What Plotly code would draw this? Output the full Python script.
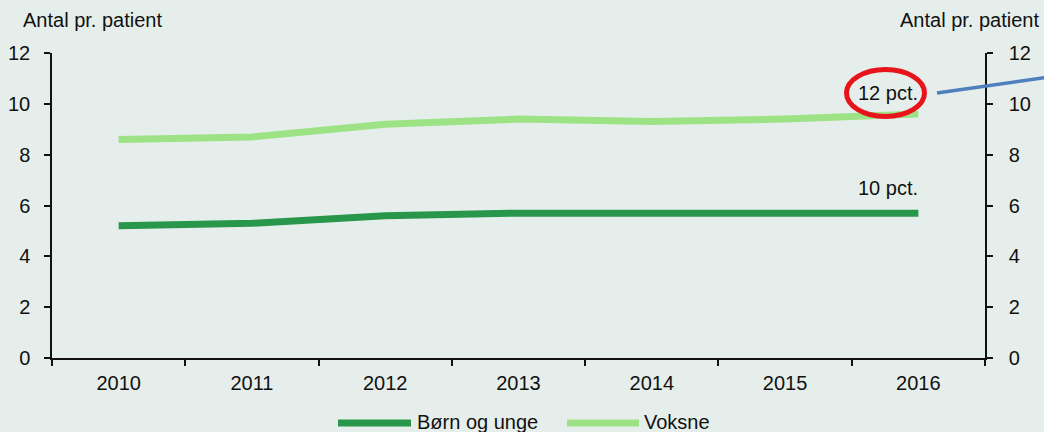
import plotly.graph_objects as go

# Data
years = ["2010", "2011", "2012", "2013", "2014", "2015", "2016"]
born_unge = [5.2, 5.3, 5.6, 5.7, 5.7, 5.7, 5.7]
voksne = [8.6, 8.7, 9.2, 9.4, 9.3, 9.4, 9.6]
series_names = ["Børn og unge", "Voksne"]
end_labels = ["10 pct.", "12 pct."]
y_ticks = [0, 2, 4, 6, 8, 10, 12]
axis_title = "Antal pr. patient"

# Styles
BG = "#e6eeeb"
DARK_GREEN = "#28964b"
LIGHT_GREEN = "#9de285"
TEXT = "#111111"
FONT = "Liberation Sans, Arial, sans-serif"
FS = 20

W, H = 1044, 432
L, R, T, B = 52, 59, 53, 74
PW, PH = W - L - R, H - T - B


def px(x):
    return (x - L) / PW


def py(y):
    return (H - B - y) / PH


fig = go.Figure()
fig.add_trace(go.Scatter(x=years, y=born_unge, mode="lines", name=series_names[0],
                         line=dict(color=DARK_GREEN, width=7), showlegend=False))
fig.add_trace(go.Scatter(x=years, y=voksne, mode="lines", name=series_names[1],
                         line=dict(color=LIGHT_GREEN, width=7), showlegend=False))
# carrier trace so the secondary axis is drawn
fig.add_trace(go.Scatter(x=years, y=voksne, yaxis="y2", mode="lines",
                         line=dict(width=0), opacity=0, hoverinfo="skip", showlegend=False))

axis_common = dict(showgrid=False, zeroline=False, showline=True, linecolor=TEXT,
                   linewidth=1.5, ticks="outside", ticklen=6, tickwidth=1.5,
                   tickcolor=TEXT, automargin=False,
                   tickfont=dict(family=FONT, size=FS, color=TEXT))

fig.update_layout(
    width=W, height=H,
    margin=dict(l=L, r=R, t=T, b=B),
    paper_bgcolor=BG, plot_bgcolor=BG,
    font=dict(family=FONT, size=FS, color=TEXT),
    xaxis=dict(type="category", tickson="boundaries", range=[-0.5, 6.5],
               ticklabelstandoff=6, **axis_common),
    yaxis=dict(range=[0, 12], tickvals=y_ticks, ticklabelstandoff=10, **axis_common),
    yaxis2=dict(range=[0, 12], tickvals=y_ticks, overlaying="y", side="right",
                ticklabelstandoff=12, **axis_common),
    showlegend=False,
)

# axis titles
fig.add_annotation(x=px(21), y=py(20), xref="paper", yref="paper", text=axis_title,
                   showarrow=False, xanchor="left", yanchor="middle",
                   font=dict(family=FONT, size=FS, color=TEXT))
fig.add_annotation(x=px(1041), y=py(20), xref="paper", yref="paper", text=axis_title,
                   showarrow=False, xanchor="right", yanchor="middle",
                   font=dict(family=FONT, size=FS, color=TEXT))

# end-of-line labels (category axis positions are given by index)
last = len(years) - 1
fig.add_annotation(x=last, y=born_unge[-1], xref="x", yref="y", text=end_labels[0],
                   showarrow=False, xanchor="right", yanchor="middle", yshift=25, xshift=2,
                   font=dict(family=FONT, size=FS, color=TEXT))
fig.add_annotation(x=last, y=voksne[-1], xref="x", yref="y", text=end_labels[1],
                   showarrow=False, xanchor="right", yanchor="middle", yshift=21, xshift=2,
                   font=dict(family=FONT, size=FS, color=TEXT))

# highlight ring and pointer line
fig.add_shape(type="circle", xref="paper", yref="paper",
              x0=px(846.5), x1=px(924.5), y0=py(116.5), y1=py(69.5),
              line=dict(color="#e8141c", width=5))
fig.add_shape(type="line", xref="paper", yref="paper",
              x0=px(937), y0=py(93), x1=px(1046), y1=py(77.5),
              line=dict(color="#4f7fbd", width=3.5))

# legend drawn below the axis
legend_items = [(338, 411, 415, DARK_GREEN, series_names[0]),
                (567, 639, 642, LIGHT_GREEN, series_names[1])]
for x0, x1, xt, col, name in legend_items:
    fig.add_shape(type="line", xref="paper", yref="paper",
                  x0=px(x0), x1=px(x1), y0=py(423), y1=py(423),
                  line=dict(color=col, width=7))
    fig.add_annotation(x=px(xt), y=py(422), xref="paper", yref="paper", text=name,
                       showarrow=False, xanchor="left", yanchor="middle",
                       font=dict(family=FONT, size=FS, color=TEXT))

fig.write_html("out.html")
